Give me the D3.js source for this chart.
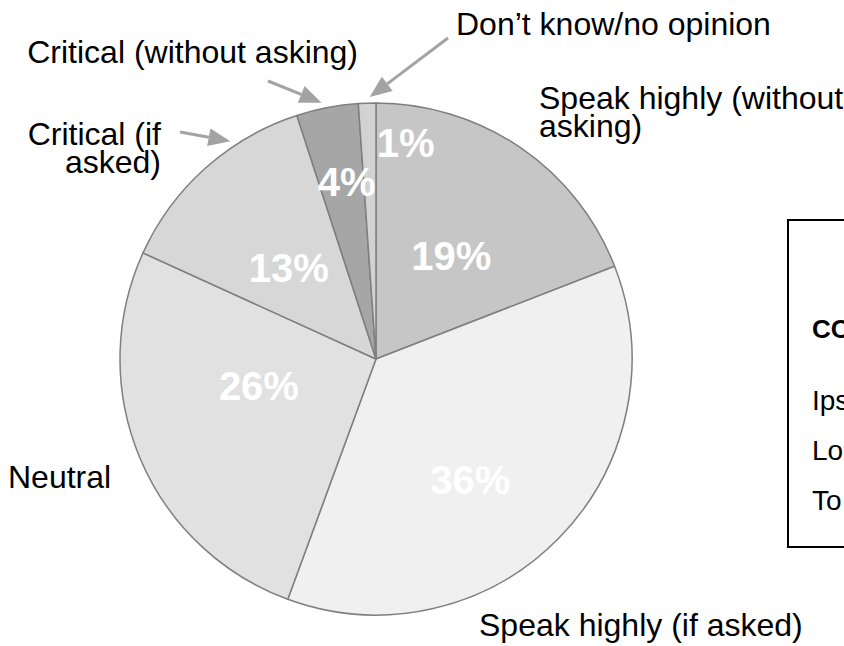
<!DOCTYPE html>
<html>
<head>
<meta charset="utf-8">
<script src="https://cdn.jsdelivr.net/npm/d3@7/dist/d3.min.js"></script>
<style>
  html, body { margin: 0; padding: 0; background: #fff; }
  svg { display: block; font-family: Arial, "Liberation Sans", sans-serif; }
</style>
</head>
<body>
<svg id="chart" width="844" height="646"></svg>
<script>
// ---- data ----
const categories = [
  "Speak highly (without asking)",
  "Speak highly (if asked)",
  "Neutral",
  "Critical (if asked)",
  "Critical (without asking)",
  "Don\u2019t know/no opinion"
];
const values = [19.1, 36.5, 26.2, 13.2, 3.9, 1.1];
const percentLabels = ["19%", "36%", "26%", "13%", "4%", "1%"];
const legendTitle = "CO";
const legendItems = ["Ips", "Lo", "To"];

// ---- layout / style (not data) ----
const W = 844, H = 646;
const cx = 376, cy = 359, R = 256;
const fills = ["#c6c6c6", "#f0f0f0", "#e1e1e1", "#d7d7d7", "#a6a6a6", "#d2d2d2"];
const labelNudge = [[3, 2], [3, 31], [1, -23], [-2, 4], [-5, -52], [34, -88]];
const catLabels = [
  { lines: ["Speak highly (without", "asking)"], x: 539, y: 109, anchor: "start" },
  { lines: ["Speak highly (if asked)"], x: 479, y: 636, anchor: "start" },
  { lines: ["Neutral"], x: 8, y: 488, anchor: "start" },
  { lines: ["Critical (if", "asked)"], x: 161, y: 145, anchor: "end" },
  { lines: ["Critical (without asking)"], x: 358, y: 63, anchor: "end" },
  { lines: ["Don\u2019t know/no opinion"], x: 456, y: 35, anchor: "start" }
];
// arrows: slice index, tail point, angular nudge (deg)
const arrows = [
  { i: 5, tail: [448, 38], nudge: 0.6 },
  { i: 4, tail: [268, 81], nudge: -1 },
  { i: 3, tail: [180, 132], nudge: 8 }
];

const svg = d3.select("#chart");
svg.append("rect").attr("width", W).attr("height", H).attr("fill", "#fff");

const pie = d3.pie().sort(null).value(d => d);
const arcs = pie(values);
const arc = d3.arc().innerRadius(0).outerRadius(R);
const labelArc = d3.arc().innerRadius(R * 0.5).outerRadius(R * 0.5);

const g = svg.append("g").attr("transform", `translate(${cx},${cy})`);
g.selectAll("path.slice")
  .data(arcs)
  .join("path")
  .attr("class", "slice")
  .attr("d", arc)
  .attr("fill", (d, i) => fills[i])
  .attr("stroke", "#7f7f7f")
  .attr("stroke-width", 1.5)
  .attr("stroke-linejoin", "round");

g.selectAll("text.pct")
  .data(arcs)
  .join("text")
  .attr("class", "pct")
  .attr("x", (d, i) => labelArc.centroid(d)[0] + labelNudge[i][0])
  .attr("y", (d, i) => labelArc.centroid(d)[1] + labelNudge[i][1])
  .attr("dy", "0.36em")
  .attr("text-anchor", "middle")
  .attr("font-size", 40)
  .attr("font-weight", "bold")
  .attr("fill", "#fff")
  .text((d, i) => percentLabels[i]);

// category labels
catLabels.forEach((c, i) => {
  const t = svg.append("text")
    .attr("x", c.x).attr("y", c.y)
    .attr("text-anchor", c.anchor)
    .attr("font-size", 32)
    .attr("fill", "#000");
  c.lines.forEach((ln, k) => {
    t.append("tspan").attr("x", c.x).attr("dy", k === 0 ? 0 : 28).text(ln);
  });
});

// arrows
const arrowColor = "#a3a3a3";
arrows.forEach(a => {
  const d = arcs[a.i];
  const ang = (d.startAngle + d.endAngle) / 2 + a.nudge * Math.PI / 180;
  const tipR = R + 6;
  const tip = [cx + tipR * Math.sin(ang), cy - tipR * Math.cos(ang)];
  const dx = tip[0] - a.tail[0], dy = tip[1] - a.tail[1];
  const len = Math.hypot(dx, dy);
  const ux = dx / len, uy = dy / len;
  const headL = 22, headW = 9;
  const base = [tip[0] - ux * headL, tip[1] - uy * headL];
  svg.append("line")
    .attr("x1", a.tail[0]).attr("y1", a.tail[1])
    .attr("x2", base[0]).attr("y2", base[1])
    .attr("stroke", arrowColor).attr("stroke-width", 3);
  svg.append("path")
    .attr("d", `M${tip[0]},${tip[1]}L${base[0] - uy * headW},${base[1] + ux * headW}L${base[0] + uy * headW},${base[1] - ux * headW}Z`)
    .attr("fill", arrowColor);
});

// legend box (cut off at right edge)
const lg = svg.append("g");
lg.append("rect")
  .attr("x", 788).attr("y", 220)
  .attr("width", 80).attr("height", 327)
  .attr("fill", "#fff").attr("stroke", "#000").attr("stroke-width", 2);
lg.append("text")
  .attr("x", 812).attr("y", 338)
  .attr("font-size", 26).attr("font-weight", "bold")
  .text(legendTitle);
lg.selectAll("text.item")
  .data(legendItems)
  .join("text")
  .attr("class", "item")
  .attr("x", 812)
  .attr("y", (d, i) => 410 + i * 50)
  .attr("font-size", 28)
  .text(d => d);
</script>
</body>
</html>
